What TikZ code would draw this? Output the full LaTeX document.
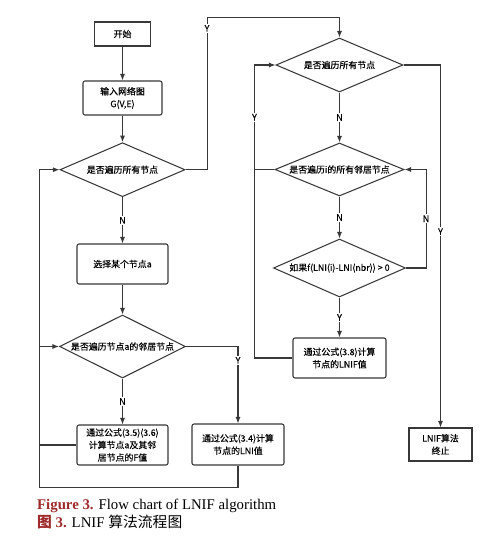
\documentclass[tikz,border=0pt]{standalone}
\usepackage{fontspec}
\setmainfont{Liberation Serif}
\newfontfamily\cjk[FakeBold=0.4]{Noto Sans CJK SC}
\newfontfamily\cjkleg{Noto Sans CJK SC}
\usetikzlibrary{shapes.geometric,arrows.meta}
\definecolor{gris}{HTML}{383838}
\definecolor{rouge}{HTML}{9E2A2B}

\begin{document}
\begin{tikzpicture}[x=1pt, y=-1pt]
\tikzset{texte/.style={font=\cjk\fontsize{8.9}{12.5}\selectfont, text=black},
boite/.style={draw=gris, line width=1.05pt, rounded corners=2pt, align=center, inner sep=1pt, texte},
losange/.style={draw=gris, line width=1.05pt, diamond, aspect=2, inner sep=0pt},
ligne/.style={draw=gris, line width=1.05pt},
fleche/.style={ligne, -{Latex[length=6.5pt, width=5pt]}},
rep/.style={fill=white, inner sep=1pt, texte}}
\useasboundingbox (0, 0) rectangle (502, 545);
% colonne de gauche
\node[boite, sharp corners, minimum width=56pt, minimum height=24pt] (B1) at (122.5, 34) {开始};
\node[boite, minimum width=79pt, minimum height=34pt] (B2) at (122.5, 98) {输入网络图\\G(V,E)};
\node[losange, minimum width=125pt, minimum height=54pt, label={[texte]center:是否遍历所有节点}] (D1) at (122.5, 169.7) {};
\node[boite, minimum width=91pt, minimum height=40pt] (B3) at (122.5, 264) {选择某个节点a};
\node[losange, minimum width=126pt, minimum height=63pt, label={[texte]center:是否遍历节点a的邻居节点}] (D2) at (122.5, 346.5) {};
\node[boite, minimum width=91pt, minimum height=40pt] (B4) at (122.5, 445) {通过公式(3.5)(3.6)\\计算节点a及其邻\\居节点的F值};
\node[boite, minimum width=92pt, minimum height=41pt] (B5) at (238, 444.5) {通过公式(3.4)计算\\节点的LNI值};
% colonne de droite
\node[losange, minimum width=127pt, minimum height=54pt, label={[texte]center:是否遍历所有节点}] (D3) at (339.5, 65) {};
\node[losange, minimum width=129pt, minimum height=53pt, label={[texte]center:是否遍历i的所有邻居节点}] (D4) at (339.5, 169.5) {};
\node[losange, minimum width=132pt, minimum height=58pt, label={[texte]center:如果f(LNI(i)-LNI(nbr)) > 0}] (D5) at (339.5, 268) {};
\node[boite, minimum width=93pt, minimum height=40pt] (B6) at (339.5, 358) {通过公式(3.8)计算\\节点的LNIF值};
\node[boite, sharp corners, minimum width=63pt, minimum height=33pt] (B7) at (440.5, 444.5) {LNIF算法\\终止};
% fleches
\draw[fleche] (B1) -- (B2);
\draw[fleche] (B2) -- (D1);
\draw[fleche] (D1) -- node[rep]{N} (B3);
\draw[fleche] (B3) -- (D2);
\draw[fleche] (D2) -- node[rep]{N} (B4);
\draw[fleche] (D2.east) -| node[rep, pos=0.59]{Y} (B5.north);
\draw[fleche] (B4.west) -- ++(-37, 0) |- (D2.west);
\draw[fleche] (B5.south) -- ++(0, 21.5) -- ++(-198.5, 0) |- (D1.west);
\draw[fleche] (D1.east) -- ++(21.5, 0) -- node[rep, pos=0.93]{Y} ++(0, -152) -| (D3.north);
\draw[fleche] (D3) -- node[rep]{N} (D4);
\draw[fleche] (D4) -- node[rep]{N} (D5);
\draw[fleche] (D5) -- node[rep]{Y} (B6);
\draw[fleche] (D3.east) -| node[rep, pos=0.73]{Y} (B7.north);
\draw[fleche] (D4.west) -- ++(-20, 0) |- node[rep, pos=0.25]{Y} (D3.west);
\draw[fleche] (D5.east) -- ++(20, 0) |- node[rep, pos=0.25]{N} (D4.east);
\draw[ligne] (B6.west) -- ++(-38, 0) |- (D4.west);
% legende
\node[anchor=base west, inner sep=0pt, font=\fontsize{14.8}{16}\selectfont] (L1) at (37, 509.5) {\textcolor{rouge}{\textbf{Figure 3.}} Flow chart of LNIF algorithm};
\node[anchor=base west, inner sep=0pt, font=\fontsize{14.8}{16}\selectfont] (L2) at (37, 527.5) {\textcolor{rouge}{{\cjkleg\bfseries 图} \textbf{3.}} LNIF {\cjkleg 算法流程图}};
\end{tikzpicture}
\end{document}
